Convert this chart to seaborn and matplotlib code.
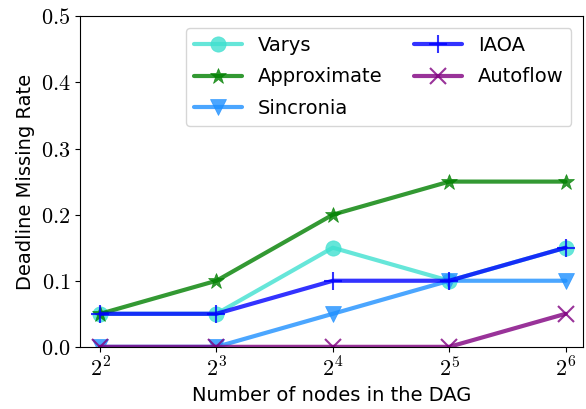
import matplotlib
matplotlib.use("Agg")
import matplotlib.pyplot as plt
import seaborn as sns
import pandas as pd

sns.set_style("ticks")
plt.rcParams['font.family'] = ['DejaVu Sans']
plt.rcParams['mathtext.fontset'] = 'cm'
plt.rcParams['text.color'] = 'black'
plt.rcParams['axes.labelcolor'] = 'black'
plt.rcParams['xtick.color'] = 'black'
plt.rcParams['ytick.color'] = 'black'

x_labels = ["$2^{2}$", "$2^{3}$", "$2^{4}$", "$2^{5}$", "$2^{6}$"]
x_pos = [0, 1, 2, 3, 4]
varys = [0.05, 0.05, 0.15, 0.10, 0.15]
approximate = [0.05, 0.10, 0.20, 0.25, 0.25]
sincronia = [0.0, 0.0, 0.05, 0.10, 0.10]
iaoa = [0.05, 0.05, 0.10, 0.10, 0.15]
autoflow = [0.0, 0.0, 0.0, 0.0, 0.05]

series = [
    ("Varys", varys, "turquoise", "o", 11),
    ("Approximate", approximate, "green", "*", 12),
    ("Sincronia", sincronia, "dodgerblue", "v", 11),
    ("IAOA", iaoa, "blue", "+", 13),
    ("Autoflow", autoflow, "purple", "x", 11),
]

fig, ax = plt.subplots(figsize=(5.86, 4.09), dpi=100)
for name, vals, col, mk, ms in series:
    df = pd.DataFrame({"x": x_pos, "y": vals})
    sns.lineplot(data=df, x="x", y="y", ax=ax, color=col, marker=mk,
                 markersize=ms, linewidth=3, alpha=0.8, label=name,
                 markeredgecolor=col, markeredgewidth=1.5 if mk in "+x" else 0.5)

ax.set_xlim(-0.17, 4.15)
ax.set_ylim(0, 0.5)
ax.set_xticks(x_pos)
ax.set_xticklabels(x_labels)
yt = [0.0, 0.1, 0.2, 0.3, 0.4, 0.5]
ax.set_yticks(yt)
ax.set_yticklabels([f"${v:.1f}$" for v in yt])
ax.tick_params(labelsize=16)
ax.set_xlabel("Number of nodes in the DAG", fontsize=14)
ax.set_ylabel("Deadline Missing Rate", fontsize=14)
for s in ax.spines.values():
    s.set_visible(True)
    s.set_color("black")
ax.legend(ncol=2, loc="upper right", fontsize=14, handlelength=2.5,
          columnspacing=1.6, borderaxespad=0.6, labelspacing=0.65,
          edgecolor="#cccccc")
fig.subplots_adjust(left=0.137, right=0.995, top=0.96, bottom=0.152)
fig.savefig("out.png", dpi=100)
